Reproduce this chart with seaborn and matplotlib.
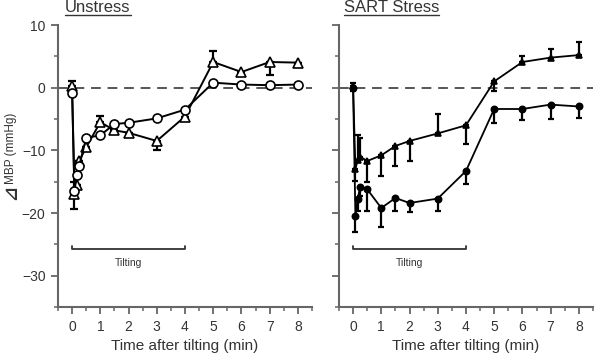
import numpy as np
import pandas as pd
import seaborn as sns
import matplotlib
matplotlib.use("Agg")
import matplotlib.pyplot as plt
from matplotlib.ticker import MultipleLocator
from matplotlib.lines import Line2D

# ---- data ----
time = [0, 0.083, 0.167, 0.25, 0.5, 1, 1.5, 2, 3, 4, 5, 6, 7, 8]

uns_circle = [-0.8, -16.5, -14.0, -12.5, -8.0, -7.6, -5.8, -5.6, -4.9, -3.5, 0.8, 0.5, 0.4, 0.5]
uns_circle_up = [0, 1.5, 0, 0, 0, 0, 0, 0, 0, 0, 0, 0, 0, 0]
uns_circle_dn = [0.4, 0, 0, 0, 0, 0, 0, 0, 0, 0, 0, 0, 0, 0]

uns_tri = [0.2, -17.0, -15.5, -11.7, -9.5, -5.5, -6.8, -7.2, -8.5, -4.6, 4.1, 2.5, 4.1, 4.0]
uns_tri_up = [0.8, 0, 0, 0, 0, 1.0, 0, 0, 0, 0, 1.8, 0, 0, 0]
uns_tri_dn = [0, 2.3, 0, 0, 0, 0, 0, 0, 1.5, 0, 0, 0, 2.0, 0]

sart_tri = [0.3, -12.9, -11.6, -11.0, -11.7, -10.8, -9.3, -8.5, -7.3, -6.0, 1.0, 4.1, 4.8, 5.2]
sart_tri_up = [0.5, 0, 4.0, 3.0, 0, 0, 0, 0, 3.1, 0, 0, 0.9, 1.4, 2.1]
sart_tri_dn = [0, 2.0, 0, 0, 3.3, 3.3, 3.2, 3.2, 0, 3.0, 1.5, 0, 0, 0]

sart_circle = [0, -20.5, -17.7, -15.8, -16.2, -19.2, -17.6, -18.4, -17.7, -13.3, -3.4, -3.4, -2.7, -3.0]
sart_circle_up = [0, 0, 0, 0, 0, 0, 0, 0, 0, 0, 0, 0, 0, 0]
sart_circle_dn = [0.5, 2.5, 2.0, 1.5, 3.5, 3.1, 2.0, 1.4, 1.9, 2.1, 2.2, 1.8, 2.3, 1.9]

titles = ["Unstress", "SART Stress"]
x_ticks = [0, 1, 2, 3, 4, 5, 6, 7, 8]
y_ticks = [10, 0, -10, -20, -30]
tilt_start, tilt_end = 0, 4

# ---- style ----
sns.set_style("ticks")
plt.rcParams["font.family"] = ["Liberation Sans", "DejaVu Sans"]
SPINE = "#666666"
TXT = "#333333"

fig = plt.figure(figsize=(6.01, 3.59), dpi=100)
ax1 = fig.add_axes([0.0965, 0.1448, 0.4226, 0.7855])
ax2 = fig.add_axes([0.564, 0.1448, 0.4226, 0.7855])


def setup(ax, show_ylabels):
    ax.set_xlim(-0.5, 8.5)
    ax.set_ylim(-35, 10)
    for s in ["top", "right"]:
        ax.spines[s].set_visible(False)
    for s in ["left", "bottom"]:
        ax.spines[s].set_color(SPINE)
        ax.spines[s].set_linewidth(1.5)
    ax.set_xticks(x_ticks)
    ax.set_yticks(y_ticks)
    ax.xaxis.set_minor_locator(MultipleLocator(0.5))
    ax.yaxis.set_minor_locator(MultipleLocator(5))
    ax.tick_params(which="major", direction="out", length=5, width=1.3,
                   color=SPINE, labelsize=10, labelcolor=TXT, pad=4)
    ax.tick_params(which="minor", direction="out", length=3, width=1.1, color=SPINE)
    if not show_ylabels:
        ax.tick_params(axis="y", labelleft=False)
    ax.axhline(0, color="#555555", lw=1.4, ls=(0, (5, 3.5)), zorder=1)
    ax.set_xlabel("Time after tilting (min)", fontsize=11, color=TXT, labelpad=4)
    ax.set_ylabel("")
    # tilting bracket
    yb = -25.8
    ax.plot([tilt_start, tilt_start, tilt_end, tilt_end], [yb + 0.6, yb, yb, yb + 0.6],
            color="#333333", lw=1.3, zorder=2)
    ax.text((tilt_start + tilt_end) / 2, yb - 1.4, "Tilting", fontsize=7.5,
            color=TXT, ha="center", va="top")


def series(ax, y, up, dn, marker, ms, face, lw, elw, cap):
    ax.errorbar(time, y, yerr=[dn, up], fmt="none", ecolor="black",
                elinewidth=elw, capsize=cap, capthick=elw, zorder=3)
    df = pd.DataFrame({"t": time, "v": y})
    sns.lineplot(data=df, x="t", y="v", ax=ax, color="black", lw=lw,
                 marker=marker, markersize=ms, markerfacecolor=face,
                 markeredgecolor="black", markeredgewidth=1.2, zorder=4,
                 errorbar=None)


series(ax1, uns_tri, uns_tri_up, uns_tri_dn, "^", 7, "white", 1.4, 1.6, 3)
series(ax1, uns_circle, uns_circle_up, uns_circle_dn, "o", 6.5, "white", 1.4, 1.6, 3)
series(ax2, sart_tri, sart_tri_up, sart_tri_dn, "^", 4, "black", 1.3, 1.6, 2.5)
series(ax2, sart_circle, sart_circle_up, sart_circle_dn, "o", 4.5, "black", 1.3, 1.6, 2.5)

setup(ax1, True)
setup(ax2, False)

# y label: bold delta glyph + text
W, H = 601, 359
fig.text(11 / W, 1 - 148 / H, "MBP (mmHg)", rotation=90, fontsize=8.5, color=TXT,
         ha="center", va="center")
fig.text(11 / W, 1 - 192 / H, "⊿", rotation=90, fontsize=13, fontweight="bold",
         color=TXT, ha="center", va="center", family=["DejaVu Sans"])

# titles with underline
fig.canvas.draw()
renderer = fig.canvas.get_renderer()
title_x = [65 / W, 344 / W]
for tx, ttl in zip(title_x, titles):
    t = fig.text(tx, 1 - 12 / H, ttl, fontsize=12, color=TXT, ha="left", va="baseline")
    bb = t.get_window_extent(renderer=renderer).transformed(fig.transFigure.inverted())
    yline = 1 - 14.5 / H
    fig.add_artist(Line2D([bb.x0, bb.x1], [yline, yline], transform=fig.transFigure,
                          color=TXT, lw=1.0))

fig.savefig("out.png", dpi=100)
